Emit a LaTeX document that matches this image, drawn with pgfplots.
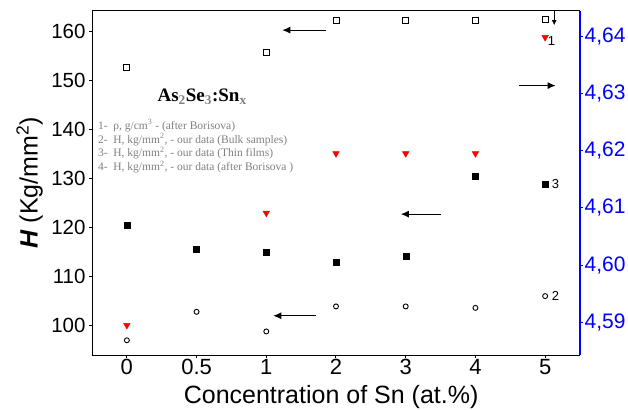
\documentclass[border=0pt]{standalone}
\usepackage{pgfplots}
\pgfplotsset{compat=1.18}
\usepackage{fontspec}
\setmainfont{Liberation Sans}
\newfontfamily\serif{Liberation Serif}
\usetikzlibrary{arrows.meta}
\begin{document}
\begin{tikzpicture}
\begin{axis}[
 scale only axis, width=488pt, height=344pt,
 xmin=-0.5, xmax=6.5, ymin=94, ymax=164.1,
 xtick={0,...,6}, xticklabels={0,0.5,1,2,3,4,5},
 ytick={100,110,...,160},
 ytick pos=left, xtick pos=bottom,
 tick align=outside, major tick length=3pt,
 tick style={black, line width=1pt},
 yticklabel style={font=\fontsize{20.5}{22}\selectfont},
 xticklabel style={font=\fontsize{22}{22}\selectfont, inner sep=1pt},
 /pgf/number format/assume math mode=true,
 xlabel={Concentration of Sn (at.\%)},
 ylabel={\textbf{\textit{H}} (Kg/mm\textsuperscript{2})},
 label style={font=\fontsize{25}{26}\selectfont},
 xlabel style={at={(axis description cs:0.49,-0.122)}, anchor=center},
 ylabel style={at={(axis description cs:-0.128,0.5)}, anchor=center},
 axis line style={black, line width=1pt},
 clip=false,
]
% 4 - open squares
\addplot[only marks, mark=square, mark size=3pt, mark options={black, line width=0.9pt}]
 coordinates {(0,152.6) (2,155.7) (3,162.1) (4,162.1) (5,162.1) (6,162.3)};
% 3 - filled squares
\addplot[only marks, mark=square*, mark size=3pt, mark options={black}]
 coordinates {(0,120.4) (1,115.5) (2,115.0) (3,113.0) (4,114.2) (5,130.5) (6,128.9)};
% 2 - open circles
\addplot[only marks, mark=o, mark size=2.5pt, mark options={black, line width=0.9pt}]
 coordinates {(0,97.0) (1,102.8) (2,98.8) (3,103.9) (4,103.9) (5,103.6) (6,106.0)};
% arrows
\draw[line width=1pt, -{Latex[length=8pt,width=7pt]}] (axis cs:2.85,160.2) -- (axis cs:2.23,160.2);
\draw[line width=1pt, -{Latex[length=8pt,width=7pt]}] (axis cs:4.5,122.7) -- (axis cs:3.93,122.7);
\draw[line width=1pt, -{Latex[length=8pt,width=7pt]}] (axis cs:2.71,102) -- (axis cs:2.1,102);
\draw[line width=1pt, -{Latex[length=8pt,width=7pt]}] (axis cs:5.62,148.9) -- (axis cs:6.15,148.9);
\draw[line width=1pt, -{Latex[length=5pt,width=5pt]}] (axis cs:6.13,164.1) -- (axis cs:6.13,161.2);
% labels
\node[font=\serif\bfseries\fontsize{19}{19}\selectfont] at (axis cs:1.08,146.6)
 {As\textsubscript{\color{gray}2}Se\textsubscript{\color{gray}3}:Sn\textsubscript{\color{gray}x}};
\node[anchor=west, font=\serif\fontsize{11.5}{13.9}\selectfont, text=gray, align=left, inner sep=0pt] at (axis cs:-0.415,136.5)
 {1-\ \ ρ, g/cm\textsuperscript{3} - (after Borisova)\\
  2-\ \ H, kg/mm\textsuperscript{2}, - our data (Bulk samples)\\
  3-\ \ H, kg/mm\textsuperscript{2}, - our data (Thin films)\\
  4-\ \ H, kg/mm\textsuperscript{2}, - our data (after Borisova )};
\node[font=\fontsize{13}{13}\selectfont] at (axis cs:6.15,128.9) {3};
\node[font=\fontsize{13}{13}\selectfont] at (axis cs:6.15,106.0) {2};
\node[font=\fontsize{13}{13}\selectfont] at (axis cs:6.09,157.9) {1};
\end{axis}
\begin{axis}[
 scale only axis, width=488pt, height=344pt,
 xmin=-0.5, xmax=6.5, ymin=4.5843, ymax=4.6444,
 axis y line*=right, axis x line=none,
 ytick={4.59,4.60,4.61,4.62,4.63,4.64},
 tick align=outside, major tick length=3pt,
 y axis line style={blue, line width=1.2pt},
 ytick style={blue, line width=1pt},
 yticklabel style={blue, font=\fontsize{21}{22}\selectfont, inner sep=1.5pt},
 /pgf/number format/.cd, use comma, fixed, fixed zerofill, precision=2, assume math mode=true,
 /pgfplots/.cd,
 clip=false,
]
\addplot[only marks, mark=triangle*, mark size=3.8pt, mark options={red, rotate=180}]
 coordinates {(0,4.5895) (2,4.6091) (3,4.6195) (4,4.6195) (5,4.6195) (6,4.6398)};
\end{axis}
\pgfresetboundingbox
\path (-92pt,-54pt) rectangle (536pt,355pt);
\end{tikzpicture}
\end{document}
